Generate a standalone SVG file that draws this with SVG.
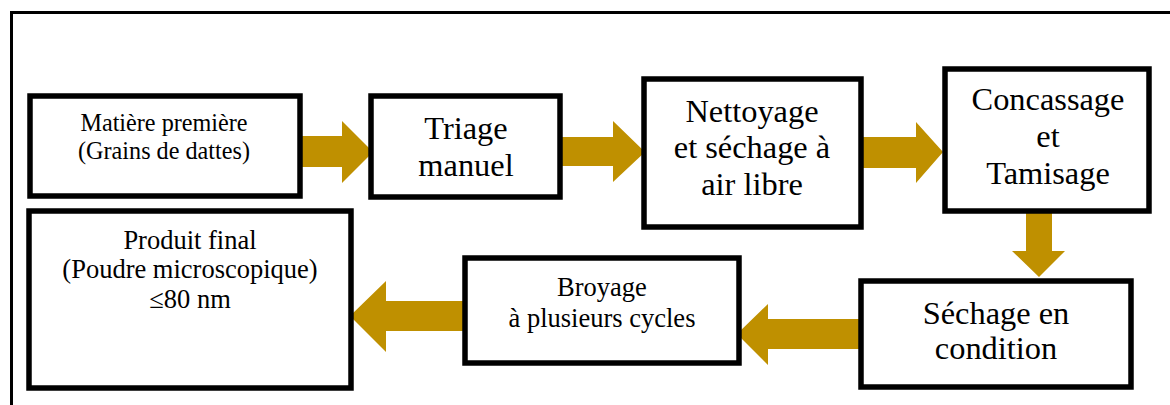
<svg xmlns="http://www.w3.org/2000/svg" width="1170" height="405" viewBox="0 0 1170 405">
  <style>
    .frame { fill: none; stroke: #000; stroke-width: 3; }
    .box { fill: #fff; stroke: #000; stroke-width: 5.5; }
    .arrow { fill: #BF9000; stroke: none; }
    .lbl { font-family: 'Liberation Serif', 'DejaVu Serif', serif; fill: #000; text-anchor: middle; }
    .small { font-size: 24.2px; }
    .mid { font-size: 26.5px; }
    .big { font-size: 32.4px; }
  </style>

  <rect width="1170" height="405" fill="#fff"/>
  <!-- outer frame, running off the right and bottom edges -->
  <rect class="frame" x="11.5" y="12.5" width="1200" height="500"/>

  <!-- block arrows between the steps -->
  <g id="connectors">
    <polygon class="arrow" points="298,136 342,136 342,121 373,152 342,183 342,167 298,167"/>
    <polygon class="arrow" points="558,137 613,137 613,121 645,152 613,182 613,166 558,166"/>
    <polygon class="arrow" points="860,137 916,137 916,122 943,152 916,183 916,168 860,168"/>
    <polygon class="arrow" points="1026,208 1052,208 1052,251 1065,251 1039,277 1012,251 1026,251"/>
    <polygon class="arrow" points="863,319 768,319 768,304 737,334 768,365 768,349 863,349"/>
    <polygon class="arrow" points="467,301 386,301 386,281 350,316 386,352 386,331 467,331"/>
  </g>

  <g id="matiere-premiere">
    <rect class="box" x="30" y="96" width="270" height="100"/>
    <text class="lbl small" x="164" y="131">Matière première</text>
    <text class="lbl small" x="164" y="159">(Grains de dattes)</text>
  </g>

  <g id="triage">
    <rect class="box" x="371" y="96" width="189" height="101"/>
    <text class="lbl big" x="466" y="139">Triage</text>
    <text class="lbl big" x="466" y="176">manuel</text>
  </g>

  <g id="nettoyage">
    <rect class="box" x="644" y="79" width="217" height="148"/>
    <text class="lbl big" x="752" y="122">Nettoyage</text>
    <text class="lbl big" x="752" y="158">et séchage à</text>
    <text class="lbl big" x="752" y="195">air libre</text>
  </g>

  <g id="concassage">
    <rect class="box" x="945" y="69" width="204" height="142"/>
    <text class="lbl big" x="1048" y="110">Concassage</text>
    <text class="lbl big" x="1048" y="147">et</text>
    <text class="lbl big" x="1048" y="184">Tamisage</text>
  </g>

  <g id="sechage">
    <rect class="box" x="861" y="281" width="270" height="106"/>
    <text class="lbl big" x="996" y="324">Séchage en</text>
    <text class="lbl big" x="996" y="359">condition</text>
  </g>

  <g id="broyage">
    <rect class="box" x="465" y="258" width="274" height="105"/>
    <text class="lbl mid" x="602" y="296">Broyage</text>
    <text class="lbl mid" x="602" y="327">à plusieurs cycles</text>
  </g>

  <g id="produit-final">
    <rect class="box" x="29" y="211" width="322" height="177"/>
    <text class="lbl mid" x="190" y="249">Produit final</text>
    <text class="lbl mid" x="190" y="278">(Poudre microscopique)</text>
    <text class="lbl mid" x="190" y="308">≤80 nm</text>
  </g>
</svg>
